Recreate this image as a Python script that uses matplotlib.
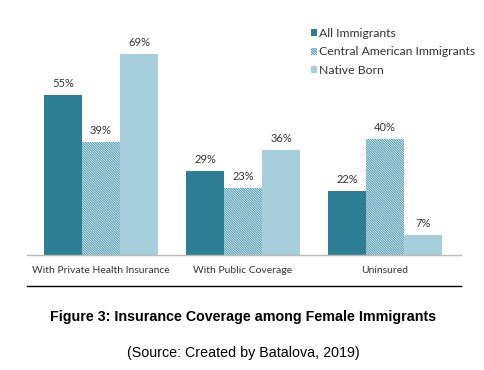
import matplotlib
matplotlib.use("Agg")
import matplotlib.pyplot as plt
import numpy as np
from matplotlib.patches import Patch

categories = ["With Private Health Insurance", "With Public Coverage", "Uninsured"]
series_names = ["All Immigrants", "Central American Immigrants", "Native Born"]
all_imm = [55, 29, 22]
central = [39, 23, 40]
native = [69, 36, 7]
caption = "Figure 3: Insurance Coverage among Female Immigrants"
source = "(Source: Created by Batalova, 2019)"

W, H = 485, 370
fig = plt.figure(figsize=(W / 100, H / 100), dpi=100)
fig.patch.set_facecolor("white")

ax = fig.add_axes([27 / W, 1 - 255 / H, (461 - 27) / W, (255 - 15) / H])
ax.set_xlim(-0.521, 2.535)
ax.set_ylim(0, 82.5)
ax.axis("off")

bw = 38 / 142
x = np.arange(len(categories))
c_dark = "#2d7e95"
c_light = "#a6cedb"
c_hatch = "#3f93ab"
HATCH = "\\" * 14

plt.rcParams["hatch.linewidth"] = 0.7
b1 = ax.bar(x - bw, all_imm, bw, color=c_dark, linewidth=0)
b2 = ax.bar(x, central, bw, facecolor="white", edgecolor=c_hatch, hatch=HATCH, linewidth=0)
b3 = ax.bar(x + bw, native, bw, color=c_light, linewidth=0)

for bars, vals in ((b1, all_imm), (b2, central), (b3, native)):
    for r, v in zip(bars, vals):
        ax.text(r.get_x() + r.get_width() / 2, v + 2.0, f"{v}%", ha="center", va="bottom",
                fontsize=8, family="Lato", color="#333333")

ax.plot([-0.521, 2.535], [0, 0], color="#bbbbbb", lw=1, clip_on=False)

for xi, c in zip(x, categories):
    ax.text(xi, -5.2, c, ha="center", va="center", fontsize=7.5, family="Lato", color="#333333")

handles = [Patch(facecolor=c_dark, linewidth=0),
           Patch(facecolor="white", edgecolor=c_hatch, hatch=HATCH, linewidth=0),
           Patch(facecolor=c_light, linewidth=0)]
fig.legend(handles, series_names, loc="upper left", bbox_to_anchor=(305 / W, 1 - 22 / H),
           frameon=False, prop={"family": "Lato", "size": 8.8},
           handlelength=0.5, handleheight=0.5, handletextpad=0.15, labelspacing=0.6,
           borderpad=0, labelcolor="#333333")

fig.add_artist(plt.Line2D([27 / W, 461 / W], [1 - 286 / H, 1 - 286 / H], color="black", lw=1,
                          transform=fig.transFigure))

fig.text(243 / W, 1 - 317 / H, caption, ha="center", va="center", fontsize=10.3,
         fontweight="bold", family="Liberation Sans", color="black")
fig.text(243 / W, 1 - 353 / H, source, ha="center", va="center", fontsize=10.3,
         family="Liberation Sans", color="black")

fig.savefig("out.png", dpi=100, facecolor="white")
